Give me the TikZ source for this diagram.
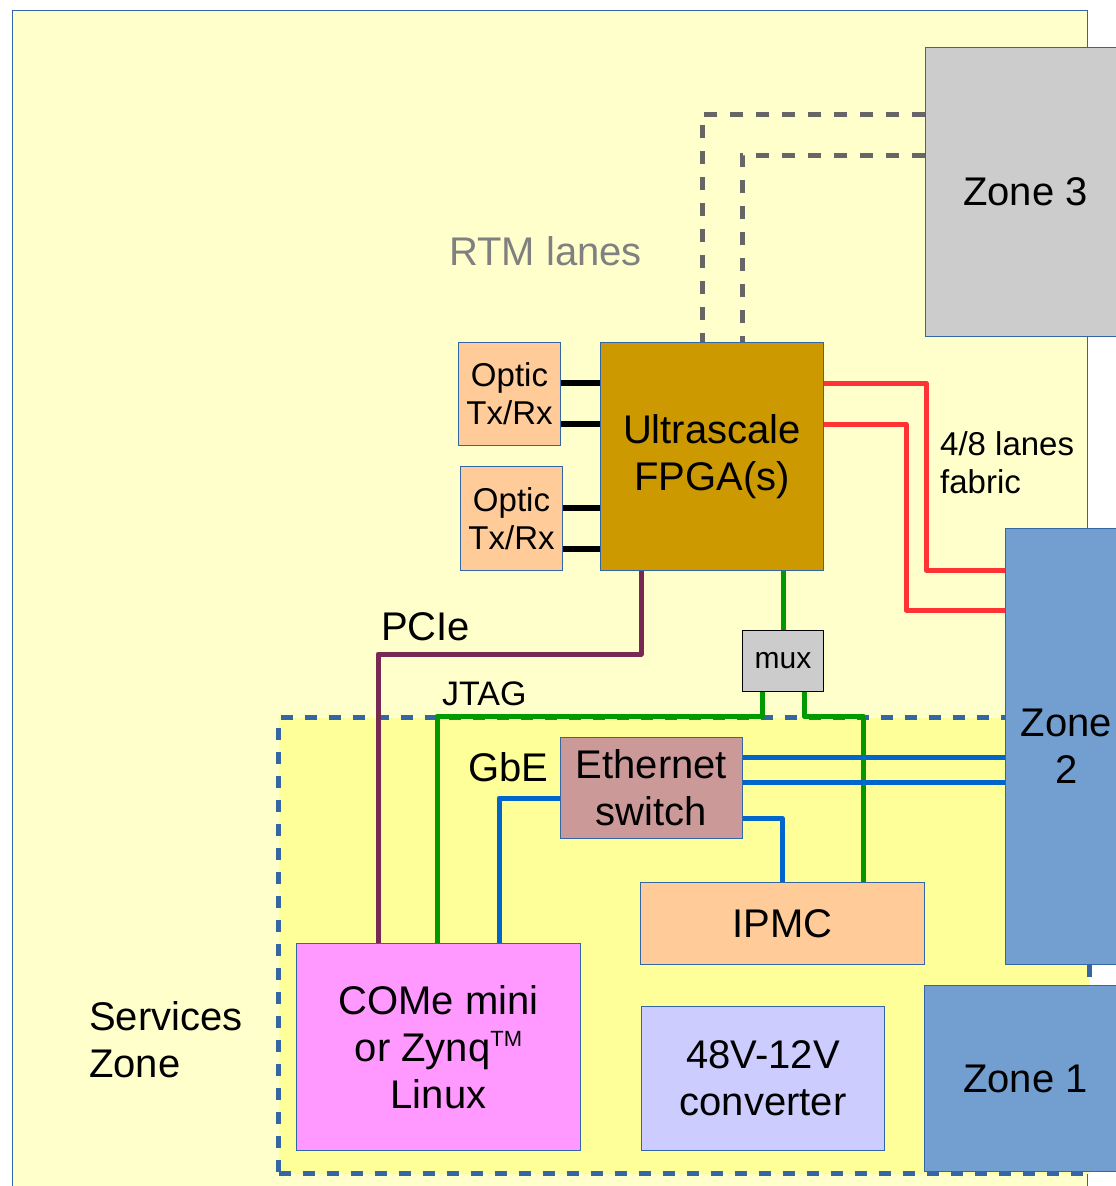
\documentclass[tikz,border=0pt]{standalone}
\usepackage{fontspec}
\setmainfont{Liberation Sans}
\usetikzlibrary{positioning, calc}
\definecolor{boardyellow}{HTML}{FFFFCC}
\definecolor{svcyellow}{HTML}{FFFF99}
\definecolor{edgeblue}{HTML}{3465A4}
\definecolor{zonegray}{HTML}{CCCCCC}
\definecolor{zoneblue}{HTML}{729FCF}
\definecolor{fpgagold}{HTML}{CC9900}
\definecolor{opticpeach}{HTML}{FFCC99}
\definecolor{ethrose}{HTML}{CC9999}
\definecolor{comepink}{HTML}{FF99FF}
\definecolor{convlilac}{HTML}{CCCCFF}
\definecolor{fabricred}{HTML}{FF3333}
\definecolor{jtaggreen}{HTML}{009900}
\definecolor{gbeblue}{HTML}{0066CC}
\definecolor{pciepurple}{HTML}{772953}
\definecolor{rtmgray}{HTML}{666666}
\definecolor{labelgray}{HTML}{808080}
\newcommand\sizeL{\fontsize{40}{47}\selectfont}
\newcommand\sizeM{\fontsize{33}{38}\selectfont}
\newcommand\sizeS{\fontsize{30}{36}\selectfont}
\newcommand\tmark{\raisebox{15pt}{\fontsize{22}{22}\selectfont TM}}

\begin{document}
\begin{tikzpicture}[
  x=1pt, y=-1pt,
  block/.style={rectangle, draw=edgeblue, line width=1pt, inner sep=0pt, anchor=north west, align=center, font=\sizeL},
  svczone/.style={rectangle, draw=edgeblue, fill=svcyellow, line width=5pt, dash pattern=on 12pt off 12pt, inner sep=0pt, anchor=north west},
  lbl/.style={inner sep=0pt, anchor=base west, font=\sizeL},
  wire/.style={line width=5pt, line join=round},
  optic/.style={line width=6pt, black},
  fabric/.style={wire, fabricred},
  jtag/.style={wire, jtaggreen},
  gbe/.style={wire, gbeblue},
  pcie/.style={wire, pciepurple},
  rtm/.style={line width=5pt, rtmgray, dash pattern=on 13pt off 13pt}
]
  \useasboundingbox (0,0) rectangle (1116,1186);
  \clip (0,0) rectangle (1116,1186);

  % Board and services zone
  \node[block, fill=boardyellow, minimum width=1075pt, minimum height=1220pt] (board) at (12,10) {};
  \node[svczone, minimum width=811pt, minimum height=456pt] (svc) at (276,715) {};

  % Zones
  \node[block, fill=zonegray, minimum width=200pt, minimum height=289pt] (zone3) at (925,47) {Zone 3};
  \node[block, fill=zoneblue, minimum width=122pt, minimum height=436pt] (zone2) at (1005,528) {Zone\\2};
  \node[block, fill=zoneblue, minimum width=202pt, minimum height=186pt] (zone1) at (924,985) {Zone 1};

  % FPGA and optics
  \node[block, fill=fpgagold, minimum width=223pt, minimum height=228pt] (fpga) at (600,342) {Ultrascale\\FPGA(s)};
  \node[block, fill=opticpeach, font=\sizeM, minimum width=102pt, minimum height=103pt] (opt1) at (458,342) {Optic\\Tx/Rx};
  \node[block, fill=opticpeach, font=\sizeM, minimum width=102pt, minimum height=104pt] (opt2) at (460,466) {Optic\\Tx/Rx};
  \node[block, draw=black, fill=zonegray, font=\sizeS, minimum width=81pt, minimum height=61pt] (mux) at (742,630) {mux};

  % Services
  \node[block, fill=ethrose, minimum width=182pt, minimum height=101pt] (eth) at (560,737) {Ethernet\\switch};
  \node[block, fill=opticpeach, minimum width=284pt, minimum height=82pt] (ipmc) at (640,882) {IPMC};
  \node[block, fill=comepink, minimum width=284pt, minimum height=207pt] (come) at (296,943) {COMe mini\\or Zynq\tmark\\Linux};
  \node[block, fill=convlilac, minimum width=243pt, minimum height=144pt] (conv) at (641,1006) {48V-12V\\converter};

  % Labels
  \node[lbl, text=labelgray] (rtmlbl) at (449,265) {RTM lanes};
  \node[lbl] (pcielbl) at (381,640) {PCIe};
  \node[lbl, font=\fontsize{34}{40}\selectfont] (jtaglbl) at (442,705) {JTAG};
  \node[lbl] (gbelbl) at (468,781) {GbE};
  \node[inner sep=0pt, anchor=north west, align=left, font=\sizeM] (fabriclbl) at (940,431) {4/8 lanes\\fabric};
  \node[inner sep=0pt, anchor=north west, align=left, font=\sizeL] (svclbl) at (89,1001) {Services\\Zone};

  % RTM lanes
  \draw[rtm] ([yshift=-67pt]zone3.north west) -| ([xshift=102pt]fpga.north west);
  \draw[rtm] ([yshift=-108pt]zone3.north west) -| ([xshift=142pt]fpga.north west);

  % Optic links
  \draw[optic] ([yshift=-41pt]opt1.north east) -- ([yshift=-41pt]opt1.north east -| fpga.west);
  \draw[optic] ([yshift=-82pt]opt1.north east) -- ([yshift=-82pt]opt1.north east -| fpga.west);
  \draw[optic] ([yshift=-42pt]opt2.north east) -- ([yshift=-42pt]opt2.north east -| fpga.west);
  \draw[optic] ([yshift=-83pt]opt2.north east) -- ([yshift=-83pt]opt2.north east -| fpga.west);

  % Fabric lanes
  \draw[fabric] ([yshift=-41pt]fpga.north east) -- ++(102,0) |- ([yshift=-42pt]zone2.north west);
  \draw[fabric] ([yshift=-82pt]fpga.north east) -- ++(82,0) |- ([yshift=-82pt]zone2.north west);

  % PCIe
  \draw[pcie] ([xshift=41pt]fpga.south west) -- ++(0,83) -| ([xshift=82pt]come.north west);

  % JTAG
  \draw[jtag] (mux.north) -- (mux.north |- fpga.south);
  \draw[jtag] ([xshift=20pt]mux.south west) -- ++(0,24) -| ([xshift=141pt]come.north west);
  \draw[jtag] ([xshift=-20pt]mux.south east) -- ++(0,24) -| ([xshift=223pt]ipmc.north west);

  % GbE
  \draw[gbe] ([yshift=-20pt]eth.north east) -- ([yshift=-20pt]eth.north east -| zone2.west);
  \draw[gbe] ([yshift=-45pt]eth.north east) -- ([yshift=-45pt]eth.north east -| zone2.west);
  \draw[gbe] ([yshift=-81pt]eth.north east) -| ([xshift=142pt]ipmc.north west);
  \draw[gbe] ([yshift=-61pt]eth.north west) -| ([xshift=203pt]come.north west);
\end{tikzpicture}
\end{document}
